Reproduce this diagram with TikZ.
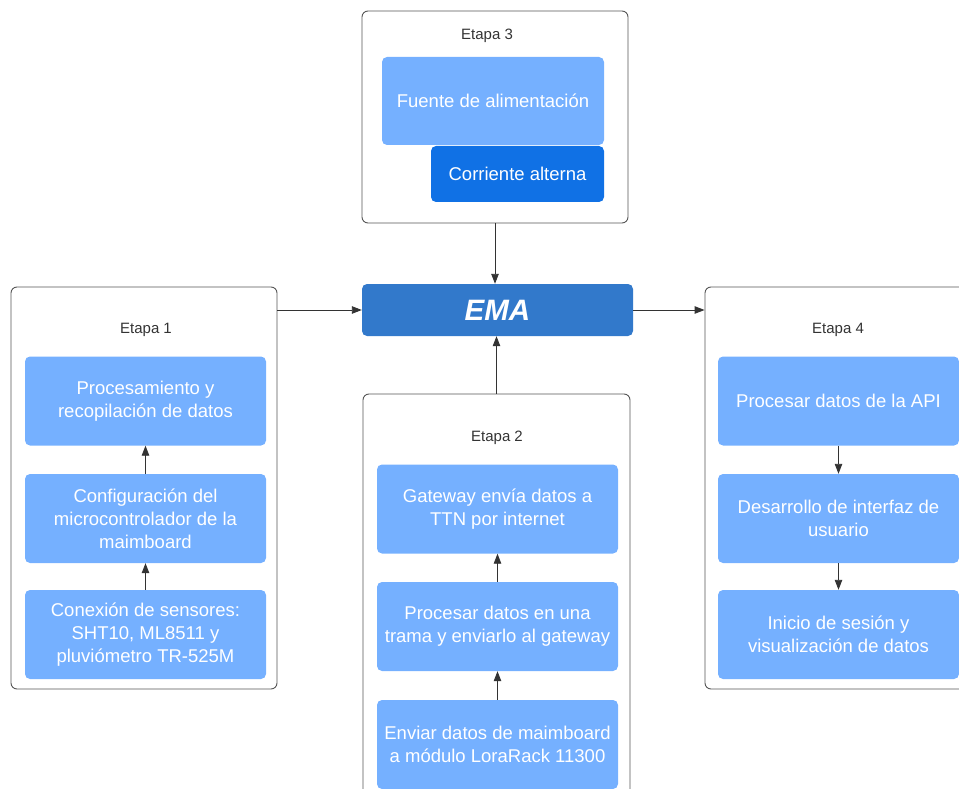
\documentclass[tikz,border=0pt]{standalone}
\usepackage{fontspec}
\setmainfont{Liberation Sans}
\usetikzlibrary{arrows.meta}
\definecolor{boxblue}{HTML}{75B0FF}
\definecolor{darkblue}{HTML}{1071E5}
\definecolor{emablue}{HTML}{3279CB}
\definecolor{framegray}{HTML}{555555}
\begin{document}
\begin{tikzpicture}
[x=1pt,y=-1pt,%
  frame/.style={draw=framegray,rounded corners=6pt,line width=0.9pt,inner sep=0pt},%
  task/.style={fill=boxblue,rounded corners=5pt,text=white,align=center,%
    minimum width=241pt,minimum height=89pt,inner sep=0pt,font=\fontsize{18.5}{23}\selectfont},%
  stage/.style={text=black!80,font=\fontsize{15}{17}\selectfont},%
  link/.style={->,>={Triangle[length=10pt,width=7.5pt]},draw=black!80,line width=0.9pt}]
\useasboundingbox (0,0) rectangle (959,789);
% etapa 3
\node[frame,minimum width=266pt,minimum height=212pt] (e3) at (495,117) {};
\node[stage] (e3t) at (487,36) {Etapa 3};
\node[task,minimum width=222pt,minimum height=88pt] (fuente) at (493,101) {Fuente de alimentación};
\node[task,fill=darkblue,minimum width=173pt,minimum height=56pt] (ac) at (517.5,174) {Corriente alterna};
% EMA
\node[fill=emablue,rounded corners=5pt,minimum width=271pt,minimum height=52pt,inner sep=0pt,%
  text=white,font=\fontsize{29.5}{32}\selectfont\bfseries\itshape] (ema) at (497.5,310) {EMA};
% etapa 1
\node[frame,minimum width=266pt,minimum height=402pt] (e1) at (144,488) {};
\node[stage] (e1t) at (146,330) {Etapa 1};
\node[task] (p1) at (145.5,401) {Procesamiento y\\recopilación de datos};
\node[task] (p2) at (145.5,518.5) {Configuración del\\microcontrolador de la\\maimboard};
\node[task] (p3) at (145.5,634.5) {Conexión de sensores:\\SHT10, ML8511 y\\pluviómetro TR-525M};
% etapa 2
\node[frame,minimum width=267pt,minimum height=430pt] (e2) at (496.5,609) {};
\node[stage] (e2t) at (497,438) {Etapa 2};
\node[task] (g1) at (497.5,509) {Gateway envía datos a\\TTN por internet};
\node[task] (g2) at (497.5,626.5) {Procesar datos en una\\trama y enviarlo al gateway};
\node[task] (g3) at (497.5,744.5) {Enviar datos de maimboard\\a módulo LoraRack 11300};
% etapa 4
\node[frame,minimum width=267pt,minimum height=402pt] (e4) at (838.5,488) {};
\node[stage] (e4t) at (838,330) {Etapa 4};
\node[task] (u1) at (838.5,401) {Procesar datos de la API};
\node[task] (u2) at (838.5,518.5) {Desarrollo de interfaz de\\usuario};
\node[task] (u3) at (838.5,634.5) {Inicio de sesión y\\visualización de datos};
\draw[link] (e3.south) -- (e3.south |- ema.north);
\draw[link] (e2.north) -- (e2.north |- ema.south);
\draw[link] (e1.east |- ema.west) -- (ema.west);
\draw[link] (ema.east) -- (ema.east -| e4.west);
\draw[link] (p3) -- (p2);
\draw[link] (p2) -- (p1);
\draw[link] (g3) -- (g2);
\draw[link] (g2) -- (g1);
\draw[link] (u1) -- (u2);
\draw[link] (u2) -- (u3);
\end{tikzpicture}
\end{document}
